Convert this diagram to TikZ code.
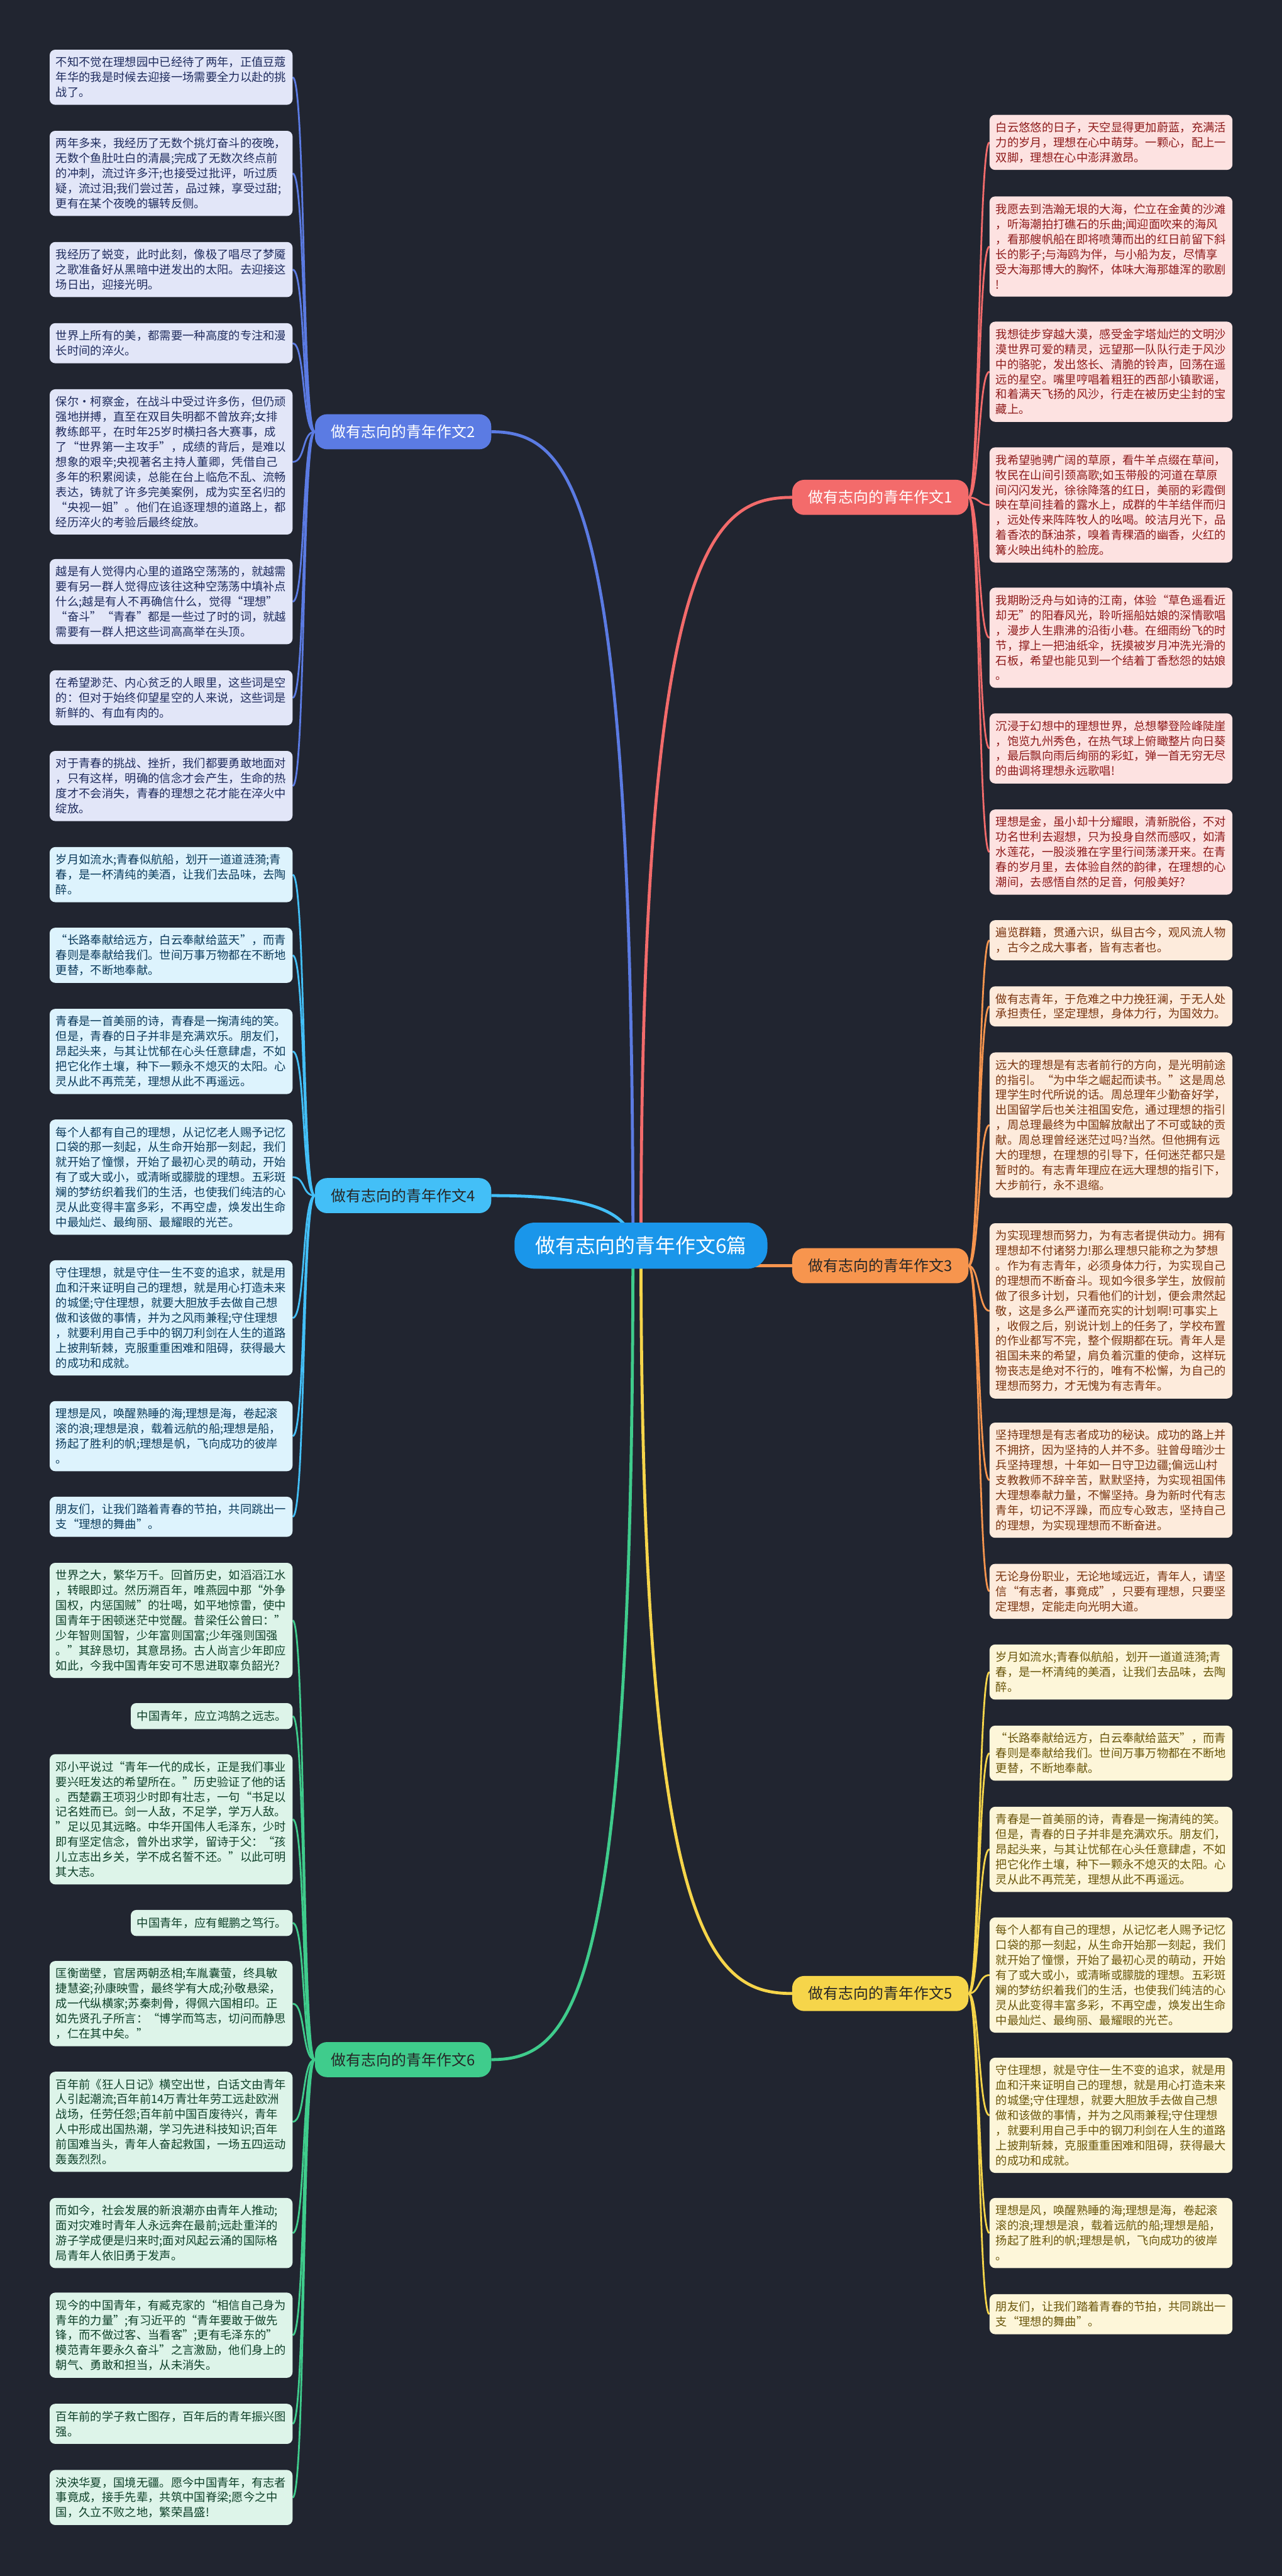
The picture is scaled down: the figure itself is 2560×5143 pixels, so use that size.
\documentclass[tikz,border=0pt]{standalone}
\usepackage{fontspec}
\setmainfont{Noto Sans CJK SC}
\usetikzlibrary{calc}
\pgfdeclarelayer{bgl}
\pgfdeclarelayer{lines}
\pgfsetlayers{bgl,lines,main}
\definecolor{bgc}{HTML}{212530}
\definecolor{cc}{HTML}{1A96EA}
\definecolor{c1}{HTML}{F36B6B}\definecolor{f1}{HTML}{FDE2E1}\definecolor{t1}{HTML}{8E1B1B}
\definecolor{c2}{HTML}{5B7BE3}\definecolor{f2}{HTML}{E2E6F8}\definecolor{t2}{HTML}{1F2C5E}
\definecolor{c3}{HTML}{F7954E}\definecolor{f3}{HTML}{FDEBDC}\definecolor{t3}{HTML}{7A3510}
\definecolor{c4}{HTML}{43BFF7}\definecolor{f4}{HTML}{DDF3FD}\definecolor{t4}{HTML}{0B3B5C}
\definecolor{c5}{HTML}{F6D54A}\definecolor{f5}{HTML}{FDF6D9}\definecolor{t5}{HTML}{6A560B}
\definecolor{c6}{HTML}{3FCC8C}\definecolor{f6}{HTML}{DDF4E9}\definecolor{t6}{HTML}{0E4029}
\tikzset{
  leaf/.style={rectangle, rounded corners=11pt, anchor=north west, align=left,
    text width=460pt, inner xsep=12.5pt, inner ysep=0pt,
    font=\fontsize{23pt}{30pt}\selectfont},
  lf1/.style={leaf, fill=f1, text=t1},
  lf2/.style={leaf, fill=f2, text=t2},
  lf3/.style={leaf, fill=f3, text=t3},
  lf4/.style={leaf, fill=f4, text=t4},
  lf5/.style={leaf, fill=f5, text=t5},
  lf6/.style={leaf, fill=f6, text=t6},
  shortbox/.style={text width=298pt},
  branch/.style={rectangle, rounded corners=24pt, minimum width=352pt, minimum height=70pt,
    inner sep=0pt, font=\fontsize{30pt}{34pt}\selectfont},
  cn/.style={line width=3.5pt},
  mainln/.style={line width=6pt},
}
\begin{document}
\begin{tikzpicture}[x=1pt,y=-1pt]
\begin{pgfonlayer}{bgl}
\fill[bgc] (0,0) rectangle (2560,5143);
\end{pgfonlayer}
\useasboundingbox (0,0) rectangle (2560,5143);

% center and branches
\node[rectangle, rounded corners=40pt, fill=cc, text=white, minimum width=505pt, minimum height=92pt,
  inner sep=0pt, font=\fontsize{40pt}{44pt}\selectfont] (c) at (1280,2487) {做有志向的青年作文6篇};
\node[branch, fill=c1, text=white] (b1) at (1758,993) {做有志向的青年作文1};
\node[branch, fill=c2, text=white] (b2) at (805,862) {做有志向的青年作文2};
\node[branch, fill=c3, text=black!85] (b3) at (1758,2527) {做有志向的青年作文3};
\node[branch, fill=c4, text=black!85] (b4) at (805,2387) {做有志向的青年作文4};
\node[branch, fill=c5, text=black!85] (b5) at (1758,3980) {做有志向的青年作文5};
\node[branch, fill=c6, text=black!85] (b6) at (805,4112) {做有志向的青年作文6};

% ---------- branch 2 leaves
\node[lf2, minimum height=110pt] (l21) at (99,99) {不知不觉在理想园中已经待了两年，正值豆蔻\\年华的我是时候去迎接一场需要全力以赴的挑\\战了。};
\node[lf2, minimum height=170pt] (l22) at (99,261) {两年多来，我经历了无数个挑灯奋斗的夜晚，\\无数个鱼肚吐白的清晨;完成了无数次终点前\\的冲刺，流过许多汗;也接受过批评，听过质\\疑，流过泪;我们尝过苦，品过辣，享受过甜;\\更有在某个夜晚的辗转反侧。};
\node[lf2, minimum height=110pt] (l23) at (99,483) {我经历了蜕变，此时此刻，像极了唱尽了梦魇\\之歌准备好从黑暗中迸发出的太阳。去迎接这\\场日出，迎接光明。};
\node[lf2, minimum height=80pt] (l24) at (99,645) {世界上所有的美，都需要一种高度的专注和漫\\长时间的淬火。};
\node[lf2, minimum height=290pt] (l25) at (99,777) {保尔·柯察金，在战斗中受过许多伤，但仍顽\\强地拼搏，直至在双目失明都不曾放弃;女排\\教练郎平，在时年25岁时横扫各大赛事，成\\了“世界第一主攻手”，成绩的背后，是难以\\想象的艰辛;央视著名主持人董卿，凭借自己\\多年的积累阅读，总能在台上临危不乱、流畅\\表达，铸就了许多完美案例，成为实至名归的\\“央视一姐”。他们在追逐理想的道路上，都\\经历淬火的考验后最终绽放。};
\node[lf2, minimum height=170pt] (l26) at (99,1116) {越是有人觉得内心里的道路空荡荡的，就越需\\要有另一群人觉得应该往这种空荡荡中填补点\\什么;越是有人不再确信什么，觉得“理想”\\“奋斗”“青春”都是一些过了时的词，就越\\需要有一群人把这些词高高举在头顶。};
\node[lf2, minimum height=110pt] (l27) at (99,1338) {在希望渺茫、内心贫乏的人眼里，这些词是空\\的：但对于始终仰望星空的人来说，这些词是\\新鲜的、有血有肉的。};
\node[lf2, minimum height=140pt] (l28) at (99,1499) {对于青春的挑战、挫折，我们都要勇敢地面对\\，只有这样，明确的信念才会产生，生命的热\\度才不会消失，青春的理想之花才能在淬火中\\绽放。};

% ---------- branch 4 leaves
\node[lf4, minimum height=110pt] (l41) at (99,1691) {岁月如流水;青春似航船，划开一道道涟漪;青\\春，是一杯清纯的美酒，让我们去品味，去陶\\醉。};
\node[lf4, minimum height=110pt] (l42) at (99,1852) {“长路奉献给远方，白云奉献给蓝天”，而青\\春则是奉献给我们。世间万事万物都在不断地\\更替，不断地奉献。};
\node[lf4, minimum height=170pt] (l43) at (99,2014) {青春是一首美丽的诗，青春是一掬清纯的笑。\\但是，青春的日子并非是充满欢乐。朋友们，\\昂起头来，与其让忧郁在心头任意肆虐，不如\\把它化作土壤，种下一颗永不熄灭的太阳。心\\灵从此不再荒芜，理想从此不再遥远。};
\node[lf4, minimum height=230pt] (l44) at (99,2235) {每个人都有自己的理想，从记忆老人赐予记忆\\口袋的那一刻起，从生命开始那一刻起，我们\\就开始了憧憬，开始了最初心灵的萌动，开始\\有了或大或小，或清晰或朦胧的理想。五彩斑\\斓的梦纺织着我们的生活，也使我们纯洁的心\\灵从此变得丰富多彩，不再空虚，焕发出生命\\中最灿烂、最绚丽、最耀眼的光芒。};
\node[lf4, minimum height=230pt] (l45) at (99,2516) {守住理想，就是守住一生不变的追求，就是用\\血和汗来证明自己的理想，就是用心打造未来\\的城堡;守住理想，就要大胆放手去做自己想\\做和该做的事情，并为之风雨兼程;守住理想\\，就要利用自己手中的钢刀利剑在人生的道路\\上披荆斩棘，克服重重困难和阻碍，获得最大\\的成功和成就。};
\node[lf4, minimum height=140pt] (l46) at (99,2797) {理想是风，唤醒熟睡的海;理想是海，卷起滚\\滚的浪;理想是浪，载着远航的船;理想是船，\\扬起了胜利的帆;理想是帆，飞向成功的彼岸\\。};
\node[lf4, minimum height=80pt] (l47) at (99,2988) {朋友们，让我们踏着青春的节拍，共同跳出一\\支“理想的舞曲”。};

% ---------- branch 6 leaves
\node[lf6, minimum height=230pt] (l61) at (99,3120) {世界之大，繁华万千。回首历史，如滔滔江水\\，转眼即过。然历溯百年，唯燕园中那“外争\\国权，内惩国贼”的壮喝，如平地惊雷，使中\\国青年于困顿迷茫中觉醒。昔梁任公曾曰：”\\少年智则国智，少年富则国富;少年强则国强\\。”其辞恳切，其意昂扬。古人尚言少年即应\\如此，今我中国青年安可不思进取辜负韶光?};
\node[lf6, shortbox, minimum height=52pt] (l62) at (261,3400) {中国青年，应立鸿鹄之远志。};
\node[lf6, minimum height=260pt] (l63) at (99,3502) {邓小平说过“青年一代的成长，正是我们事业\\要兴旺发达的希望所在。”历史验证了他的话\\。西楚霸王项羽少时即有壮志，一句“书足以\\记名姓而已。剑一人敌，不足学，学万人敌。\\”足以见其远略。中华开国伟人毛泽东，少时\\即有坚定信念，曾外出求学，留诗于父：“孩\\儿立志出乡关，学不成名誓不还。”以此可明\\其大志。};
\node[lf6, shortbox, minimum height=52pt] (l64) at (261,3813) {中国青年，应有鲲鹏之笃行。};
\node[lf6, minimum height=170pt] (l65) at (99,3915) {匡衡凿壁，官居两朝丞相;车胤囊萤，终具敏\\捷慧姿;孙康映雪，最终学有大成;孙敬悬梁，\\成一代纵横家;苏秦刺骨，得佩六国相印。正\\如先贤孔子所言：“博学而笃志，切问而静思\\，仁在其中矣。”};
\node[lf6, minimum height=200pt] (l66) at (99,4136) {百年前《狂人日记》横空出世，白话文由青年\\人引起潮流;百年前14万青壮年劳工远赴欧洲\\战场，任劳任怨;百年前中国百废待兴，青年\\人中形成出国热潮，学习先进科技知识;百年\\前国难当头，青年人奋起救国，一场五四运动\\轰轰烈烈。};
\node[lf6, minimum height=140pt] (l67) at (99,4388) {而如今，社会发展的新浪潮亦由青年人推动;\\面对灾难时青年人永远奔在最前;远赴重洋的\\游子学成便是归来时;面对风起云涌的国际格\\局青年人依旧勇于发声。};
\node[lf6, minimum height=170pt] (l68) at (99,4577) {现今的中国青年，有臧克家的“相信自己身为\\青年的力量”;有习近平的“青年要敢于做先\\锋，而不做过客、当看客”;更有毛泽东的”\\模范青年要永久奋斗”之言激励，他们身上的\\朝气、勇敢和担当，从未消失。};
\node[lf6, minimum height=80pt] (l69) at (99,4799) {百年前的学子救亡图存，百年后的青年振兴图\\强。};
\node[lf6, minimum height=110pt] (l60) at (99,4931) {泱泱华夏，国境无疆。愿今中国青年，有志者\\事竟成，接手先辈，共筑中国脊梁;愿今之中\\国，久立不败之地，繁荣昌盛!};

% ---------- branch 1 leaves
\node[lf1, minimum height=110pt] (r11) at (1976,229) {白云悠悠的日子，天空显得更加蔚蓝，充满活\\力的岁月，理想在心中萌芽。一颗心，配上一\\双脚，理想在心中澎湃激昂。};
\node[lf1, minimum height=200pt] (r12) at (1976,392) {我愿去到浩瀚无垠的大海，伫立在金黄的沙滩\\，听海潮拍打礁石的乐曲;闻迎面吹来的海风\\，看那艘帆船在即将喷薄而出的红日前留下斜\\长的影子;与海鸥为伴，与小船为友，尽情享\\受大海那博大的胸怀，体味大海那雄浑的歌剧\\!};
\node[lf1, minimum height=200pt] (r13) at (1976,642) {我想徒步穿越大漠，感受金字塔灿烂的文明沙\\漠世界可爱的精灵，远望那一队队行走于风沙\\中的骆驼，发出悠长、清脆的铃声，回荡在遥\\远的星空。嘴里哼唱着粗狂的西部小镇歌谣，\\和着满天飞扬的风沙，行走在被历史尘封的宝\\藏上。};
\node[lf1, minimum height=230pt] (r14) at (1976,893) {我希望驰骋广阔的草原，看牛羊点缀在草间，\\牧民在山间引颈高歌;如玉带般的河道在草原\\间闪闪发光，徐徐降落的红日，美丽的彩霞倒\\映在草间挂着的露水上，成群的牛羊结伴而归\\，远处传来阵阵牧人的吆喝。皎洁月光下，品\\着香浓的酥油茶，嗅着青稞酒的幽香，火红的\\篝火映出纯朴的脸庞。};
\node[lf1, minimum height=200pt] (r15) at (1976,1173) {我期盼泛舟与如诗的江南，体验“草色遥看近\\却无”的阳春风光，聆听摇船姑娘的深情歌唱\\，漫步人生鼎沸的沿街小巷。在细雨纷飞的时\\节，撑上一把油纸伞，抚摸被岁月冲洗光滑的\\石板，希望也能见到一个结着丁香愁怨的姑娘\\。};
\node[lf1, minimum height=140pt] (r16) at (1976,1424) {沉浸于幻想中的理想世界，总想攀登险峰陡崖\\，饱览九州秀色，在热气球上俯瞰整片向日葵\\，最后飘向雨后绚丽的彩虹，弹一首无穷无尽\\的曲调将理想永远歌唱!};
\node[lf1, minimum height=170pt] (r17) at (1976,1616) {理想是金，虽小却十分耀眼，清新脱俗，不对\\功名世利去遐想，只为投身自然而感叹，如清\\水莲花，一股淡雅在字里行间荡漾开来。在青\\春的岁月里，去体验自然的韵律，在理想的心\\潮间，去感悟自然的足音，何般美好?};

% ---------- branch 3 leaves
\node[lf3, minimum height=80pt] (r31) at (1976,1837) {遍览群籍，贯通六识，纵目古今，观风流人物\\，古今之成大事者，皆有志者也。};
\node[lf3, minimum height=80pt] (r32) at (1976,1969) {做有志青年，于危难之中力挽狂澜，于无人处\\承担责任，坚定理想，身体力行，为国效力。};
\node[lf3, minimum height=290pt] (r33) at (1976,2101) {远大的理想是有志者前行的方向，是光明前途\\的指引。“为中华之崛起而读书。”这是周总\\理学生时代所说的话。周总理年少勤奋好学，\\出国留学后也关注祖国安危，通过理想的指引\\，周总理最终为中国解放献出了不可或缺的贡\\献。周总理曾经迷茫过吗?当然。但他拥有远\\大的理想，在理想的引导下，任何迷茫都只是\\暂时的。有志青年理应在远大理想的指引下，\\大步前行，永不退缩。};
\node[lf3, minimum height=350pt] (r34) at (1976,2442) {为实现理想而努力，为有志者提供动力。拥有\\理想却不付诸努力!那么理想只能称之为梦想\\。作为有志青年，必须身体力行，为实现自己\\的理想而不断奋斗。现如今很多学生，放假前\\做了很多计划，只看他们的计划，便会肃然起\\敬，这是多么严谨而充实的计划啊!可事实上\\，收假之后，别说计划上的任务了，学校布置\\的作业都写不完，整个假期都在玩。青年人是\\祖国未来的希望，肩负着沉重的使命，这样玩\\物丧志是绝对不行的，唯有不松懈，为自己的\\理想而努力，才无愧为有志青年。};
\node[lf3, minimum height=230pt] (r35) at (1976,2840) {坚持理想是有志者成功的秘诀。成功的路上并\\不拥挤，因为坚持的人并不多。驻曾母暗沙士\\兵坚持理想，十年如一日守卫边疆;偏远山村\\支教教师不辞辛苦，默默坚持，为实现祖国伟\\大理想奉献力量，不懈坚持。身为新时代有志\\青年，切记不浮躁，而应专心致志，坚持自己\\的理想，为实现理想而不断奋进。};
\node[lf3, minimum height=110pt] (r36) at (1976,3122) {无论身份职业，无论地域远近，青年人，请坚\\信“有志者，事竟成”，只要有理想，只要坚\\定理想，定能走向光明大道。};

% ---------- branch 5 leaves
\node[lf5, minimum height=110pt] (r51) at (1976,3283) {岁月如流水;青春似航船，划开一道道涟漪;青\\春，是一杯清纯的美酒，让我们去品味，去陶\\醉。};
\node[lf5, minimum height=110pt] (r52) at (1976,3445) {“长路奉献给远方，白云奉献给蓝天”，而青\\春则是奉献给我们。世间万事万物都在不断地\\更替，不断地奉献。};
\node[lf5, minimum height=170pt] (r53) at (1976,3607) {青春是一首美丽的诗，青春是一掬清纯的笑。\\但是，青春的日子并非是充满欢乐。朋友们，\\昂起头来，与其让忧郁在心头任意肆虐，不如\\把它化作土壤，种下一颗永不熄灭的太阳。心\\灵从此不再荒芜，理想从此不再遥远。};
\node[lf5, minimum height=230pt] (r54) at (1976,3828) {每个人都有自己的理想，从记忆老人赐予记忆\\口袋的那一刻起，从生命开始那一刻起，我们\\就开始了憧憬，开始了最初心灵的萌动，开始\\有了或大或小，或清晰或朦胧的理想。五彩斑\\斓的梦纺织着我们的生活，也使我们纯洁的心\\灵从此变得丰富多彩，不再空虚，焕发出生命\\中最灿烂、最绚丽、最耀眼的光芒。};
\node[lf5, minimum height=230pt] (r55) at (1976,4108) {守住理想，就是守住一生不变的追求，就是用\\血和汗来证明自己的理想，就是用心打造未来\\的城堡;守住理想，就要大胆放手去做自己想\\做和该做的事情，并为之风雨兼程;守住理想\\，就要利用自己手中的钢刀利剑在人生的道路\\上披荆斩棘，克服重重困难和阻碍，获得最大\\的成功和成就。};
\node[lf5, minimum height=140pt] (r56) at (1976,4388) {理想是风，唤醒熟睡的海;理想是海，卷起滚\\滚的浪;理想是浪，载着远航的船;理想是船，\\扬起了胜利的帆;理想是帆，飞向成功的彼岸\\。};
\node[lf5, minimum height=80pt] (r57) at (1976,4580) {朋友们，让我们踏着青春的节拍，共同跳出一\\支“理想的舞曲”。};

% ---------- connectors
\begin{pgfonlayer}{lines}
\coordinate (cl) at (1264,2487);
\coordinate (cr) at (1280,2487);
\draw[mainln, c2] (cl) .. controls (1264,1000) and (1150,862) .. (b2.east);
\draw[mainln, c1] (cr) .. controls (1280,1100) and (1420,993) .. (b1.west);
\draw[mainln, c4] (cl) .. controls (1258,2400) and (1120,2387) .. (b4.east);
\draw[mainln, c3] (c.center |- b3.west) -- (b3.west);
\draw[mainln, c5] (cr) .. controls (1280,3870) and (1420,3980) .. (b5.west);
\draw[mainln, c6] (cl) .. controls (1264,3980) and (1150,4112) .. (b6.east);
\foreach \l in {l21,l22,l23,l24,l25,l26,l27,l28}
  \draw[cn, c2] (b2.west) .. controls +(-26,0) and +(26,0) .. (\l.east);
\foreach \l in {l41,l42,l43,l44,l45,l46,l47}
  \draw[cn, c4] (b4.west) .. controls +(-26,0) and +(26,0) .. (\l.east);
\foreach \l in {l61,l62,l63,l64,l65,l66,l67,l68,l69,l60}
  \draw[cn, c6] (b6.west) .. controls +(-26,0) and +(26,0) .. (\l.east);
\foreach \l in {r11,r12,r13,r14,r15,r16,r17}
  \draw[cn, c1] (b1.east) .. controls +(22,0) and +(-22,0) .. (\l.west);
\foreach \l in {r31,r32,r33,r34,r35,r36}
  \draw[cn, c3] (b3.east) .. controls +(22,0) and +(-22,0) .. (\l.west);
\foreach \l in {r51,r52,r53,r54,r55,r56,r57}
  \draw[cn, c5] (b5.east) .. controls +(22,0) and +(-22,0) .. (\l.west);
\end{pgfonlayer}
\end{tikzpicture}
\end{document}
